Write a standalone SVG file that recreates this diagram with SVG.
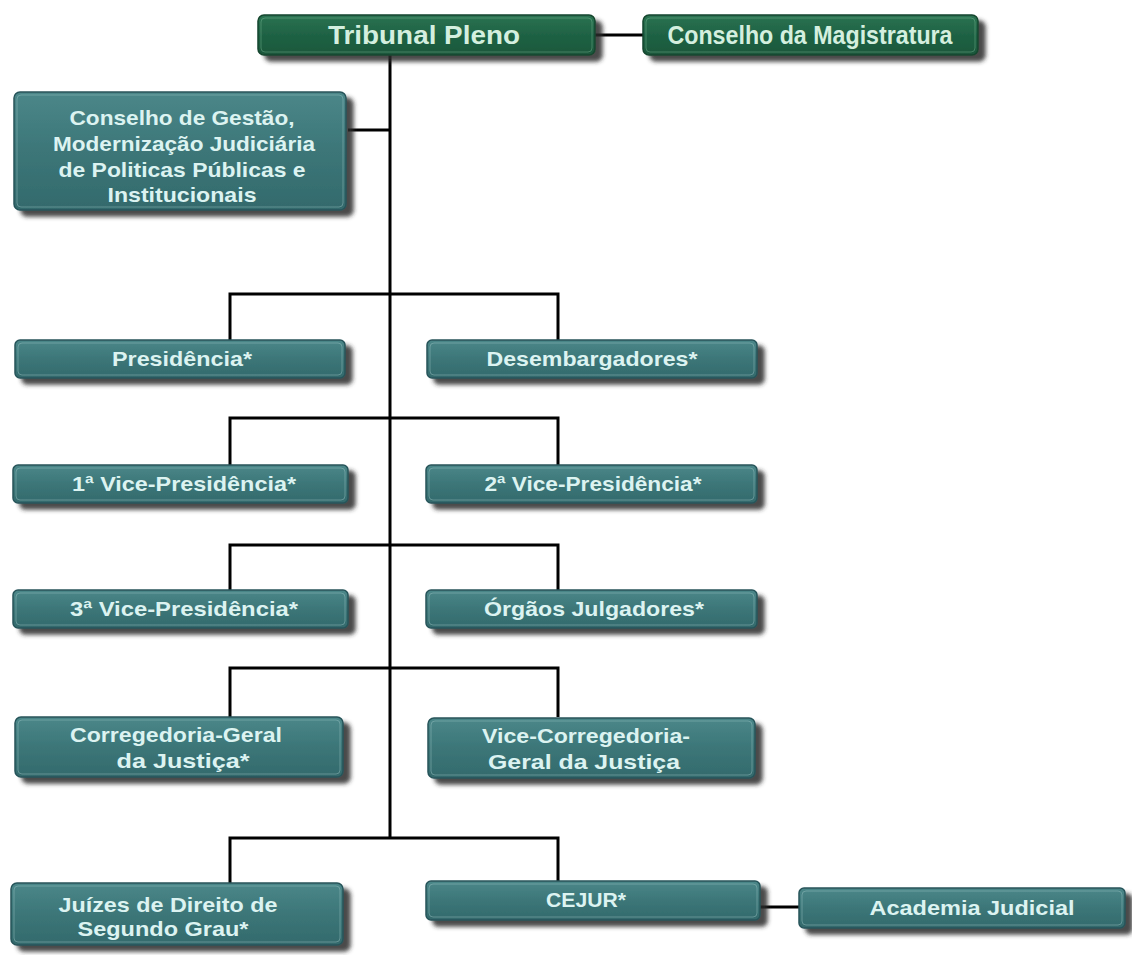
<svg xmlns="http://www.w3.org/2000/svg" width="1132" height="955" viewBox="0 0 1132 955">
<defs>
<linearGradient id="teal" x1="0" y1="0" x2="0" y2="1">
<stop offset="0" stop-color="#4b8789"/>
<stop offset="0.5" stop-color="#3c7678"/>
<stop offset="1" stop-color="#336a6c"/>
</linearGradient>
<linearGradient id="green" x1="0" y1="0" x2="0" y2="1">
<stop offset="0" stop-color="#2b7352"/>
<stop offset="0.5" stop-color="#1f6244"/>
<stop offset="1" stop-color="#1a573b"/>
</linearGradient>
<filter id="sh" x="-10%" y="-20%" width="130%" height="160%">
<feGaussianBlur in="SourceAlpha" stdDeviation="2"/>
<feOffset dx="7" dy="6" result="b"/>
<feFlood flood-color="#2a2a2a" flood-opacity="0.85"/>
<feComposite in2="b" operator="in"/>
<feMerge><feMergeNode/><feMergeNode in="SourceGraphic"/></feMerge>
</filter>
</defs>
<style>
.bt{fill:url(#teal);stroke:#28545a;stroke-width:1.5;filter:url(#sh)}
.bg{fill:url(#green);stroke:#16462f;stroke-width:1.5;filter:url(#sh)}
.in{fill:none;stroke:#9cc4c4;stroke-opacity:0.45;stroke-width:1}
.ing{fill:none;stroke:#8fcfa8;stroke-opacity:0.35;stroke-width:1}
.t{font-family:"Liberation Sans",Arial,sans-serif;font-weight:bold;font-size:21px;fill:#dcf3f1;text-anchor:middle}
.tg{font-family:"Liberation Sans",Arial,sans-serif;font-weight:bold;font-size:25px;fill:#d4efdf;text-anchor:middle}
.c{fill:none;stroke:#000;stroke-width:3}
</style>
<g id="connectors">
<line class="c" x1="390" y1="54" x2="390" y2="838"/>
<line class="c" x1="595" y1="35" x2="643" y2="35"/>
<line class="c" x1="348" y1="130" x2="390" y2="130"/>
<polyline class="c" points="230,340 230,294 558,294 558,340"/>
<polyline class="c" points="230,465 230,418 558,418 558,465"/>
<polyline class="c" points="230,590 230,545 558,545 558,590"/>
<polyline class="c" points="230,717 230,668 558,668 558,717"/>
<polyline class="c" points="230,883 230,838 558,838 558,882"/>
<line class="c" x1="760" y1="907" x2="799" y2="907"/>
</g>
<g id="tribunal-pleno">
<rect class="bg" x="258" y="15" width="337" height="40" rx="6"/>
<rect class="ing" x="261" y="18" width="331" height="34" rx="4"/>
<text class="tg" x="424" y="44" textLength="192" lengthAdjust="spacingAndGlyphs">Tribunal Pleno</text>
</g>
<g id="conselho-magistratura">
<rect class="bg" x="643" y="15" width="335" height="40" rx="6"/>
<rect class="ing" x="646" y="18" width="329" height="34" rx="4"/>
<text class="tg" x="810" y="44" textLength="285" lengthAdjust="spacingAndGlyphs">Conselho da Magistratura</text>
</g>
<g id="conselho-gestao">
<rect class="bt" x="14" y="92" width="332" height="118" rx="6"/>
<rect class="in" x="17" y="95" width="326" height="112" rx="4"/>
<text class="t" x="182" y="125" textLength="225" lengthAdjust="spacingAndGlyphs">Conselho de Gestão,</text>
<text class="t" x="184" y="151" textLength="262" lengthAdjust="spacingAndGlyphs">Modernização Judiciária</text>
<text class="t" x="182" y="177" textLength="247" lengthAdjust="spacingAndGlyphs">de Politicas Públicas e</text>
<text class="t" x="182" y="202" textLength="149" lengthAdjust="spacingAndGlyphs">Institucionais</text>
</g>
<g id="presidencia">
<rect class="bt" x="15" y="340" width="330" height="38" rx="5"/>
<rect class="in" x="18" y="343" width="324" height="32" rx="4"/>
<text class="t" x="182" y="366" textLength="140" lengthAdjust="spacingAndGlyphs">Presidência*</text>
</g>
<g id="desembargadores">
<rect class="bt" x="427" y="340" width="330" height="38" rx="5"/>
<rect class="in" x="430" y="343" width="324" height="32" rx="4"/>
<text class="t" x="592" y="366" textLength="211" lengthAdjust="spacingAndGlyphs">Desembargadores*</text>
</g>
<g id="vice1">
<rect class="bt" x="13" y="465" width="335" height="38" rx="5"/>
<rect class="in" x="16" y="468" width="329" height="32" rx="4"/>
<text class="t" x="184" y="491" textLength="224" lengthAdjust="spacingAndGlyphs">1ª Vice-Presidência*</text>
</g>
<g id="vice2">
<rect class="bt" x="426" y="465" width="331" height="38" rx="5"/>
<rect class="in" x="429" y="468" width="325" height="32" rx="4"/>
<text class="t" x="593" y="491" textLength="217" lengthAdjust="spacingAndGlyphs">2ª Vice-Presidência*</text>
</g>
<g id="vice3">
<rect class="bt" x="13" y="590" width="335" height="38" rx="5"/>
<rect class="in" x="16" y="593" width="329" height="32" rx="4"/>
<text class="t" x="184" y="616" textLength="228" lengthAdjust="spacingAndGlyphs">3ª Vice-Presidência*</text>
</g>
<g id="orgaos">
<rect class="bt" x="426" y="590" width="331" height="38" rx="5"/>
<rect class="in" x="429" y="593" width="325" height="32" rx="4"/>
<text class="t" x="594" y="616" textLength="220" lengthAdjust="spacingAndGlyphs">Órgãos Julgadores*</text>
</g>
<g id="corregedoria">
<rect class="bt" x="15" y="717" width="328" height="60" rx="6"/>
<rect class="in" x="18" y="720" width="322" height="54" rx="4"/>
<text class="t" x="176" y="742" textLength="212" lengthAdjust="spacingAndGlyphs">Corregedoria-Geral</text>
<text class="t" x="183" y="768" textLength="133" lengthAdjust="spacingAndGlyphs">da Justiça*</text>
</g>
<g id="vice-corregedoria">
<rect class="bt" x="428" y="718" width="327" height="60" rx="6"/>
<rect class="in" x="431" y="721" width="321" height="54" rx="4"/>
<text class="t" x="586" y="743" textLength="208" lengthAdjust="spacingAndGlyphs">Vice-Corregedoria-</text>
<text class="t" x="584" y="769" textLength="192" lengthAdjust="spacingAndGlyphs">Geral da Justiça</text>
</g>
<g id="juizes">
<rect class="bt" x="11" y="883" width="332" height="62" rx="6"/>
<rect class="in" x="14" y="886" width="326" height="56" rx="4"/>
<text class="t" x="168" y="912" textLength="219" lengthAdjust="spacingAndGlyphs">Juízes de Direito de</text>
<text class="t" x="163" y="936" textLength="171" lengthAdjust="spacingAndGlyphs">Segundo Grau*</text>
</g>
<g id="cejur">
<rect class="bt" x="426" y="881" width="334" height="39" rx="5"/>
<rect class="in" x="429" y="884" width="328" height="33" rx="4"/>
<text class="t" x="586" y="907" textLength="80" lengthAdjust="spacingAndGlyphs">CEJUR*</text>
</g>
<g id="academia">
<rect class="bt" x="799" y="888" width="326" height="40" rx="5"/>
<rect class="in" x="802" y="891" width="320" height="34" rx="4"/>
<text class="t" x="972" y="915" textLength="205" lengthAdjust="spacingAndGlyphs">Academia Judicial</text>
</g>
</svg>
